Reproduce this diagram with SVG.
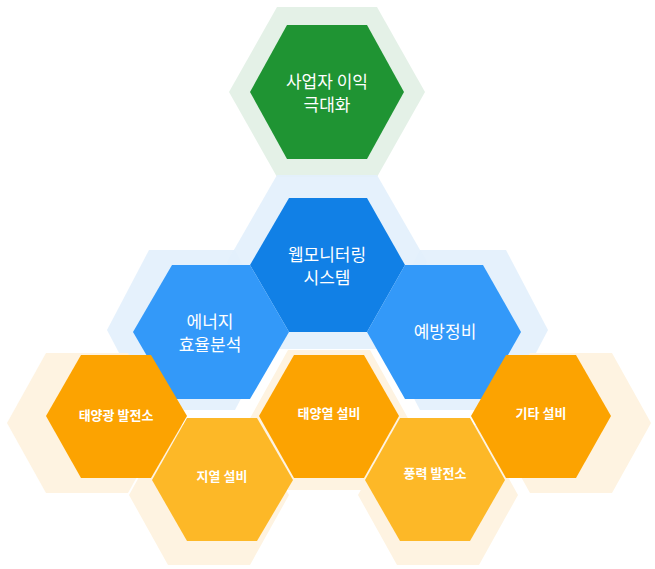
<svg xmlns="http://www.w3.org/2000/svg" width="655" height="569" viewBox="0 0 655 569">
<style>
text{font-family:"Noto Sans CJK KR","Noto Sans",sans-serif;fill:#fff;text-anchor:middle}
.big{font-size:17px}
.sm{font-size:13px;font-weight:bold}
.gh{fill:#e4f1e7}.bh{fill:#e2effc;opacity:.9}.oh{fill:#fef3e1}
</style>
<g id="halos">
<polygon class="gh" points="277,7 377,7 425,92 377,177 277,177 229,92"/>
<polygon class="bh" points="149,250 235,250 277,330 235,410 149,410 107,330"/>
<polygon class="bh" points="420,250 506,250 548,330 506,410 420,410 378,330"/>
<polygon class="bh" points="277,175 377,175 427,262 377,349 277,349 227,262"/>
<polygon class="oh" points="46,353 128,353 167,423 128,493 46,493 7,423"/>
<polygon class="oh" points="530,353 612,353 651,423 612,493 530,493 491,423"/>
<polygon class="oh" points="288,350 370,350 409,420 370,490 288,490 249,420"/>
<polygon class="oh" points="168,425 250,425 289,495 250,565 168,565 129,495"/>
<polygon class="oh" points="397,425 479,425 518,495 479,565 397,565 358,495"/>
</g>
<g id="n-green"><polygon fill="#1f9433" points="287,25 367,25 404,92 367,159 287,159 250,92"/>
<text class="big" x="327" y="88">사업자 이익</text><text class="big" x="327" y="111">극대화</text></g>
<g id="n-web"><polygon fill="#1180e6" points="289,198 367,198 405,265 367,332 289,332 250,265"/>
<text class="big" x="327" y="261">웹모니터링</text><text class="big" x="327" y="284">시스템</text></g>
<g id="n-energy"><polygon fill="#3399f9" points="172,265 250,265 289,332 250,399 172,399 133,332"/>
<text class="big" x="210" y="328">에너지</text><text class="big" x="210" y="351">효율분석</text></g>
<g id="n-prevent"><polygon fill="#3399f9" points="405,265 483,265 521,332 483,399 405,399 367,332"/>
<text class="big" x="445" y="338">예방정비</text></g>
<g id="n-solar"><polygon fill="#fca301" points="81,355 151,355 187,416 151,478 81,478 46,416"/>
<text class="sm" x="116" y="420">태양광 발전소</text></g>
<g id="n-geo"><polygon fill="#fdb827" points="187,418 257,418 293,480 257,541 187,541 152,480"/>
<text class="sm" x="222" y="481">지열 설비</text></g>
<g id="n-thermal"><polygon fill="#fca301" points="294,355 364,355 399,416 364,478 294,478 259,416"/>
<text class="sm" x="329" y="418">태양열 설비</text></g>
<g id="n-wind"><polygon fill="#fdb827" points="400,418 470,418 505,480 470,541 400,541 365,480"/>
<text class="sm" x="435" y="478">풍력 발전소</text></g>
<g id="n-etc"><polygon fill="#fca301" points="506,355 576,355 611,416 576,478 506,478 471,416"/>
<text class="sm" x="541" y="418">기타 설비</text></g>
<g id="connectors"/>
</svg>
